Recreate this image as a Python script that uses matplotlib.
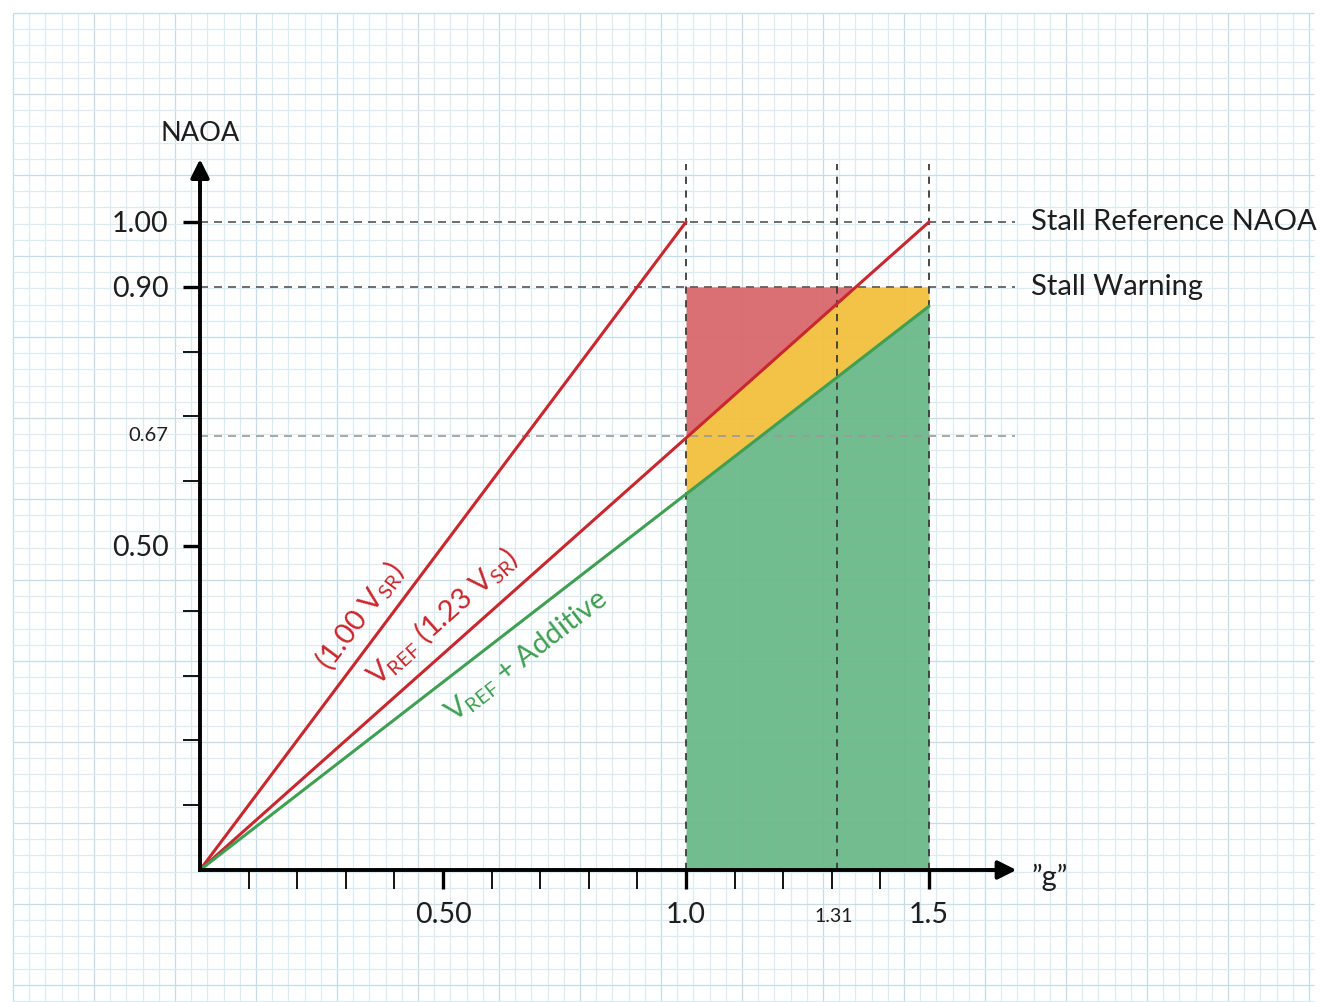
import numpy as np
import matplotlib
matplotlib.use("Agg")
import matplotlib.pyplot as plt
from matplotlib.transforms import offset_copy

plt.rcParams['font.family'] = ['Lato', 'DejaVu Sans']
plt.rcParams['mathtext.fontset'] = 'custom'
plt.rcParams['mathtext.rm'] = 'Lato'

# ---- data ----
line_names = ['(1.00 V$_\\mathregular{SR}$)',
              'V$_\\mathregular{REF}$ (1.23 V$_\\mathregular{SR}$)',
              'V$_\\mathregular{REF}$ + Additive']
line_g_end = [1.0, 1.5, 1.5]
line_naoa_end = [1.00, 1.00, 0.87]
stall_ref = 1.00
stall_warn = 0.90
naoa_mark = 0.67
g_marks = [1.0, 1.31, 1.5]
zone_g = [1.0, 1.5]
y_major = [0.50, 0.90, 1.00]
y_major_labels = ['0.50', '0.90', '1.00']
y_minor = [0.1, 0.2, 0.3, 0.4, 0.6, 0.7, 0.8]
x_major = [0.5, 1.0, 1.5]
x_major_labels = ['0.50', '1.0', '1.5']
x_minor = [0.1, 0.2, 0.3, 0.4, 0.6, 0.7, 0.8, 0.9, 1.1, 1.2, 1.3, 1.4]
x_extra_label = (1.31, '1.31')
y_extra_label = (0.67, '0.67')

W, H = 1324, 1002
fig = plt.figure(figsize=(W / 100, H / 100), dpi=100)

# ---- graph paper background ----
bg = fig.add_axes([0, 0, 1, 1])
bg.set_xlim(0, W)
bg.set_ylim(H, 0)
bg.axis('off')
step = 16.2
for i, xv in enumerate(np.arange(13, W - 8, step)):
    bg.vlines(xv, 13, H, color='#c6dce7' if i % 5 == 0 else '#dcebf2', lw=0.9, zorder=0)
for i, yv in enumerate(np.arange(13, H, step)):
    bg.hlines(yv, 13, W - 10, color='#c6dce7' if i % 5 == 0 else '#dcebf2', lw=0.9, zorder=0)

# ---- main axes ----
ox, oy, ux, uy = 200, 870, 486, 648
ax = fig.add_axes([0, 0, 1, 1], facecolor='none')
ax.set_xlim(-ox / ux, (W - ox) / ux)
ax.set_ylim(-(H - oy) / uy, oy / uy)

red = '#c9272d'
green = '#3f9f52'
ink = '#1e1e1e'

# zones
xz = np.linspace(zone_g[0], zone_g[1], 400)
slope_ref = line_naoa_end[1] / line_g_end[1]
slope_add = line_naoa_end[2] / line_g_end[2]
y_add = slope_add * xz
y_ref = np.minimum(slope_ref * xz, stall_warn)
ax.fill_between(xz, 0, y_add, color='#6ab98a', alpha=0.95, lw=0, zorder=1)
ax.fill_between(xz, y_add, y_ref, color='#f3c03e', alpha=0.95, lw=0, zorder=1)
ax.fill_between(xz, y_ref, stall_warn, color='#d8686b', alpha=0.95, lw=0, zorder=1)

# dashed reference lines
x_end_h = 1.677
y_top_v = 1.09
ax.hlines([stall_ref, stall_warn], 0, x_end_h, colors='#555555', lw=1.2,
          linestyles=(0, (4.8, 3.6)), zorder=2)
ax.hlines([naoa_mark], 0, x_end_h, colors='#9a9a9a', lw=1.2,
          linestyles=(0, (4.8, 3.6)), zorder=2)
ax.vlines(g_marks, 0, y_top_v, colors='#3a3a3a', lw=1.3,
          linestyles=(0, (4.0, 3.6)), zorder=2)

# lines
colors = [red, red, green]
for g, n, c in zip(line_g_end, line_naoa_end, colors):
    ax.plot([0, g], [0, n], color=c, lw=2.2, zorder=3, solid_capstyle='round')

# rotated labels
label_pos = [(0.329, 0.392), (0.50, 0.390), (0.673, 0.330)]
for (px, py), name, g, n, c in zip(label_pos, line_names, line_g_end, line_naoa_end, colors):
    ang = np.degrees(np.arctan2(n, g))
    ax.text(px, py, name, color=c, fontsize=21, rotation=ang,
            transform_rotates_text=True, rotation_mode='anchor',
            ha='center', va='center', zorder=4)

# axes spines
for s in ['top', 'right']:
    ax.spines[s].set_visible(False)
for s in ['left', 'bottom']:
    ax.spines[s].set_position(('data', 0))
    ax.spines[s].set_linewidth(2.8)
    ax.spines[s].set_zorder(5)
ax.spines['left'].set_bounds(0, 1.07)
ax.spines['bottom'].set_bounds(0, 1.66)
ax.annotate('', xy=(0, 1.097), xytext=(0, 1.05),
            arrowprops=dict(arrowstyle='-|>', color='black', lw=2.8, mutation_scale=28,
                            shrinkA=0, shrinkB=0), zorder=6)
ax.annotate('', xy=(1.68, 0), xytext=(1.62, 0),
            arrowprops=dict(arrowstyle='-|>', color='black', lw=2.8, mutation_scale=28,
                            shrinkA=0, shrinkB=0), zorder=6)

ax.set_yticks(y_major, y_major_labels)
ax.set_yticks(y_minor, minor=True)
ax.set_xticks(x_major, x_major_labels)
ax.set_xticks(x_minor, minor=True)
ax.tick_params(axis='y', which='major', direction='out', length=12.5, width=2.4,
               labelsize=20.5, pad=10)
ax.tick_params(axis='y', which='minor', direction='out', length=12.5, width=1.3)
ax.tick_params(axis='x', which='major', direction='out', length=14, width=2.4,
               labelsize=20.5, pad=9)
ax.tick_params(axis='x', which='minor', direction='out', length=14, width=1.3)
for lab in ax.get_xticklabels() + ax.get_yticklabels():
    lab.set_color(ink)

ax.text(x_extra_label[0], 0, x_extra_label[1], fontsize=14, color=ink,
        ha='center', va='center',
        transform=offset_copy(ax.transData, fig=fig, x=-3, y=-46, units='dots'))
ax.text(0, y_extra_label[0], y_extra_label[1], fontsize=14.5, color=ink,
        ha='right', va='center',
        transform=offset_copy(ax.transData, fig=fig, x=-32, y=0, units='dots'))

# axis titles and right labels
ax.text(0, 1.137, 'NAOA', fontsize=19.5, ha='center', va='center', color=ink)
ax.text(1.71, -0.012, '\u201dg\u201d', fontsize=21, ha='left', va='center', color=ink)
ax.text(1.71, stall_ref, 'Stall Reference NAOA', fontsize=21, ha='left', va='center',
        color=ink)
ax.text(1.71, stall_warn, 'Stall Warning', fontsize=21, ha='left', va='center',
        color=ink)

fig.savefig('out.png', dpi=100)
